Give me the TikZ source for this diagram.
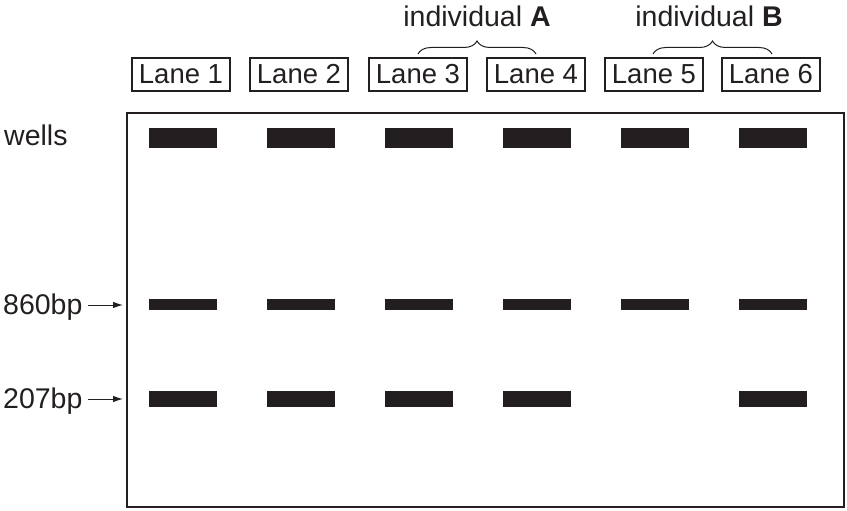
\documentclass[tikz,border=0pt]{standalone}
\usepackage{fontspec}
\setmainfont{Liberation Sans}
\usetikzlibrary{arrows.meta,decorations.pathreplacing}
\definecolor{ink}{HTML}{231F20}
\begin{document}
\begin{tikzpicture}[x=1pt,y=-1pt,
  lanebox/.style={draw=ink,line width=1.4pt,minimum width=98pt,minimum height=33pt,inner sep=0pt,font=\fontsize{27.5}{29}\selectfont,text=ink},
  lbl/.style={font=\fontsize{28.5}{30}\selectfont,text=ink,inner sep=0pt},
  band/.style={fill=ink,draw=none},
  bracestyle/.style={draw=ink,line width=1pt,decorate,decoration={brace,amplitude=13pt,aspect=0.5}},
  marker/.style={draw=ink,line width=1pt,-{Latex[length=10pt,width=6.5pt]}}]
\useasboundingbox (0,0) rectangle (847,511);
% gel
\draw[ink,line width=2.4pt] (127,113) rectangle (844,507);
% lane boxes
\foreach \i/\x in {1/181,2/299,3/418,4/536,5/654,6/771}{
  \node[lanebox] (lane\i) at (\x,74.5) {Lane \i};
}
% wells and bands
\foreach \i/\x in {1/149,2/267,3/385,4/503,5/621,6/739}{
  \fill[band] (\x,128) rectangle ++(68,20);
  \fill[band] (\x,299) rectangle ++(68,11);
}
\foreach \x in {149,267,385,503,739}{
  \fill[band] (\x,391) rectangle ++(68,16);
}
% braces
\coordinate (a1) at (418,54);
\coordinate (a2) at (536,54);
\coordinate (b1) at (653,54);
\coordinate (b2) at (772,54);
\draw[bracestyle] (a1) -- (a2);
\draw[bracestyle] (b1) -- (b2);
\node[lbl,anchor=base] (indA) at (477,27) {individual \textbf{A}};
\node[lbl,anchor=base] (indB) at (709,27) {individual \textbf{B}};
% left labels
\node[lbl,anchor=base west] (wells) at (4,146) {wells};
\node[lbl,anchor=base west] (m860) at (3,314) {860bp};
\node[lbl,anchor=base west] (m207) at (3,408) {207bp};
\coordinate (t860) at (123,305);
\coordinate (t207) at (123,399);
\draw[marker] (88,305) -- (t860);
\draw[marker] (88,399) -- (t207);
\end{tikzpicture}
\end{document}
